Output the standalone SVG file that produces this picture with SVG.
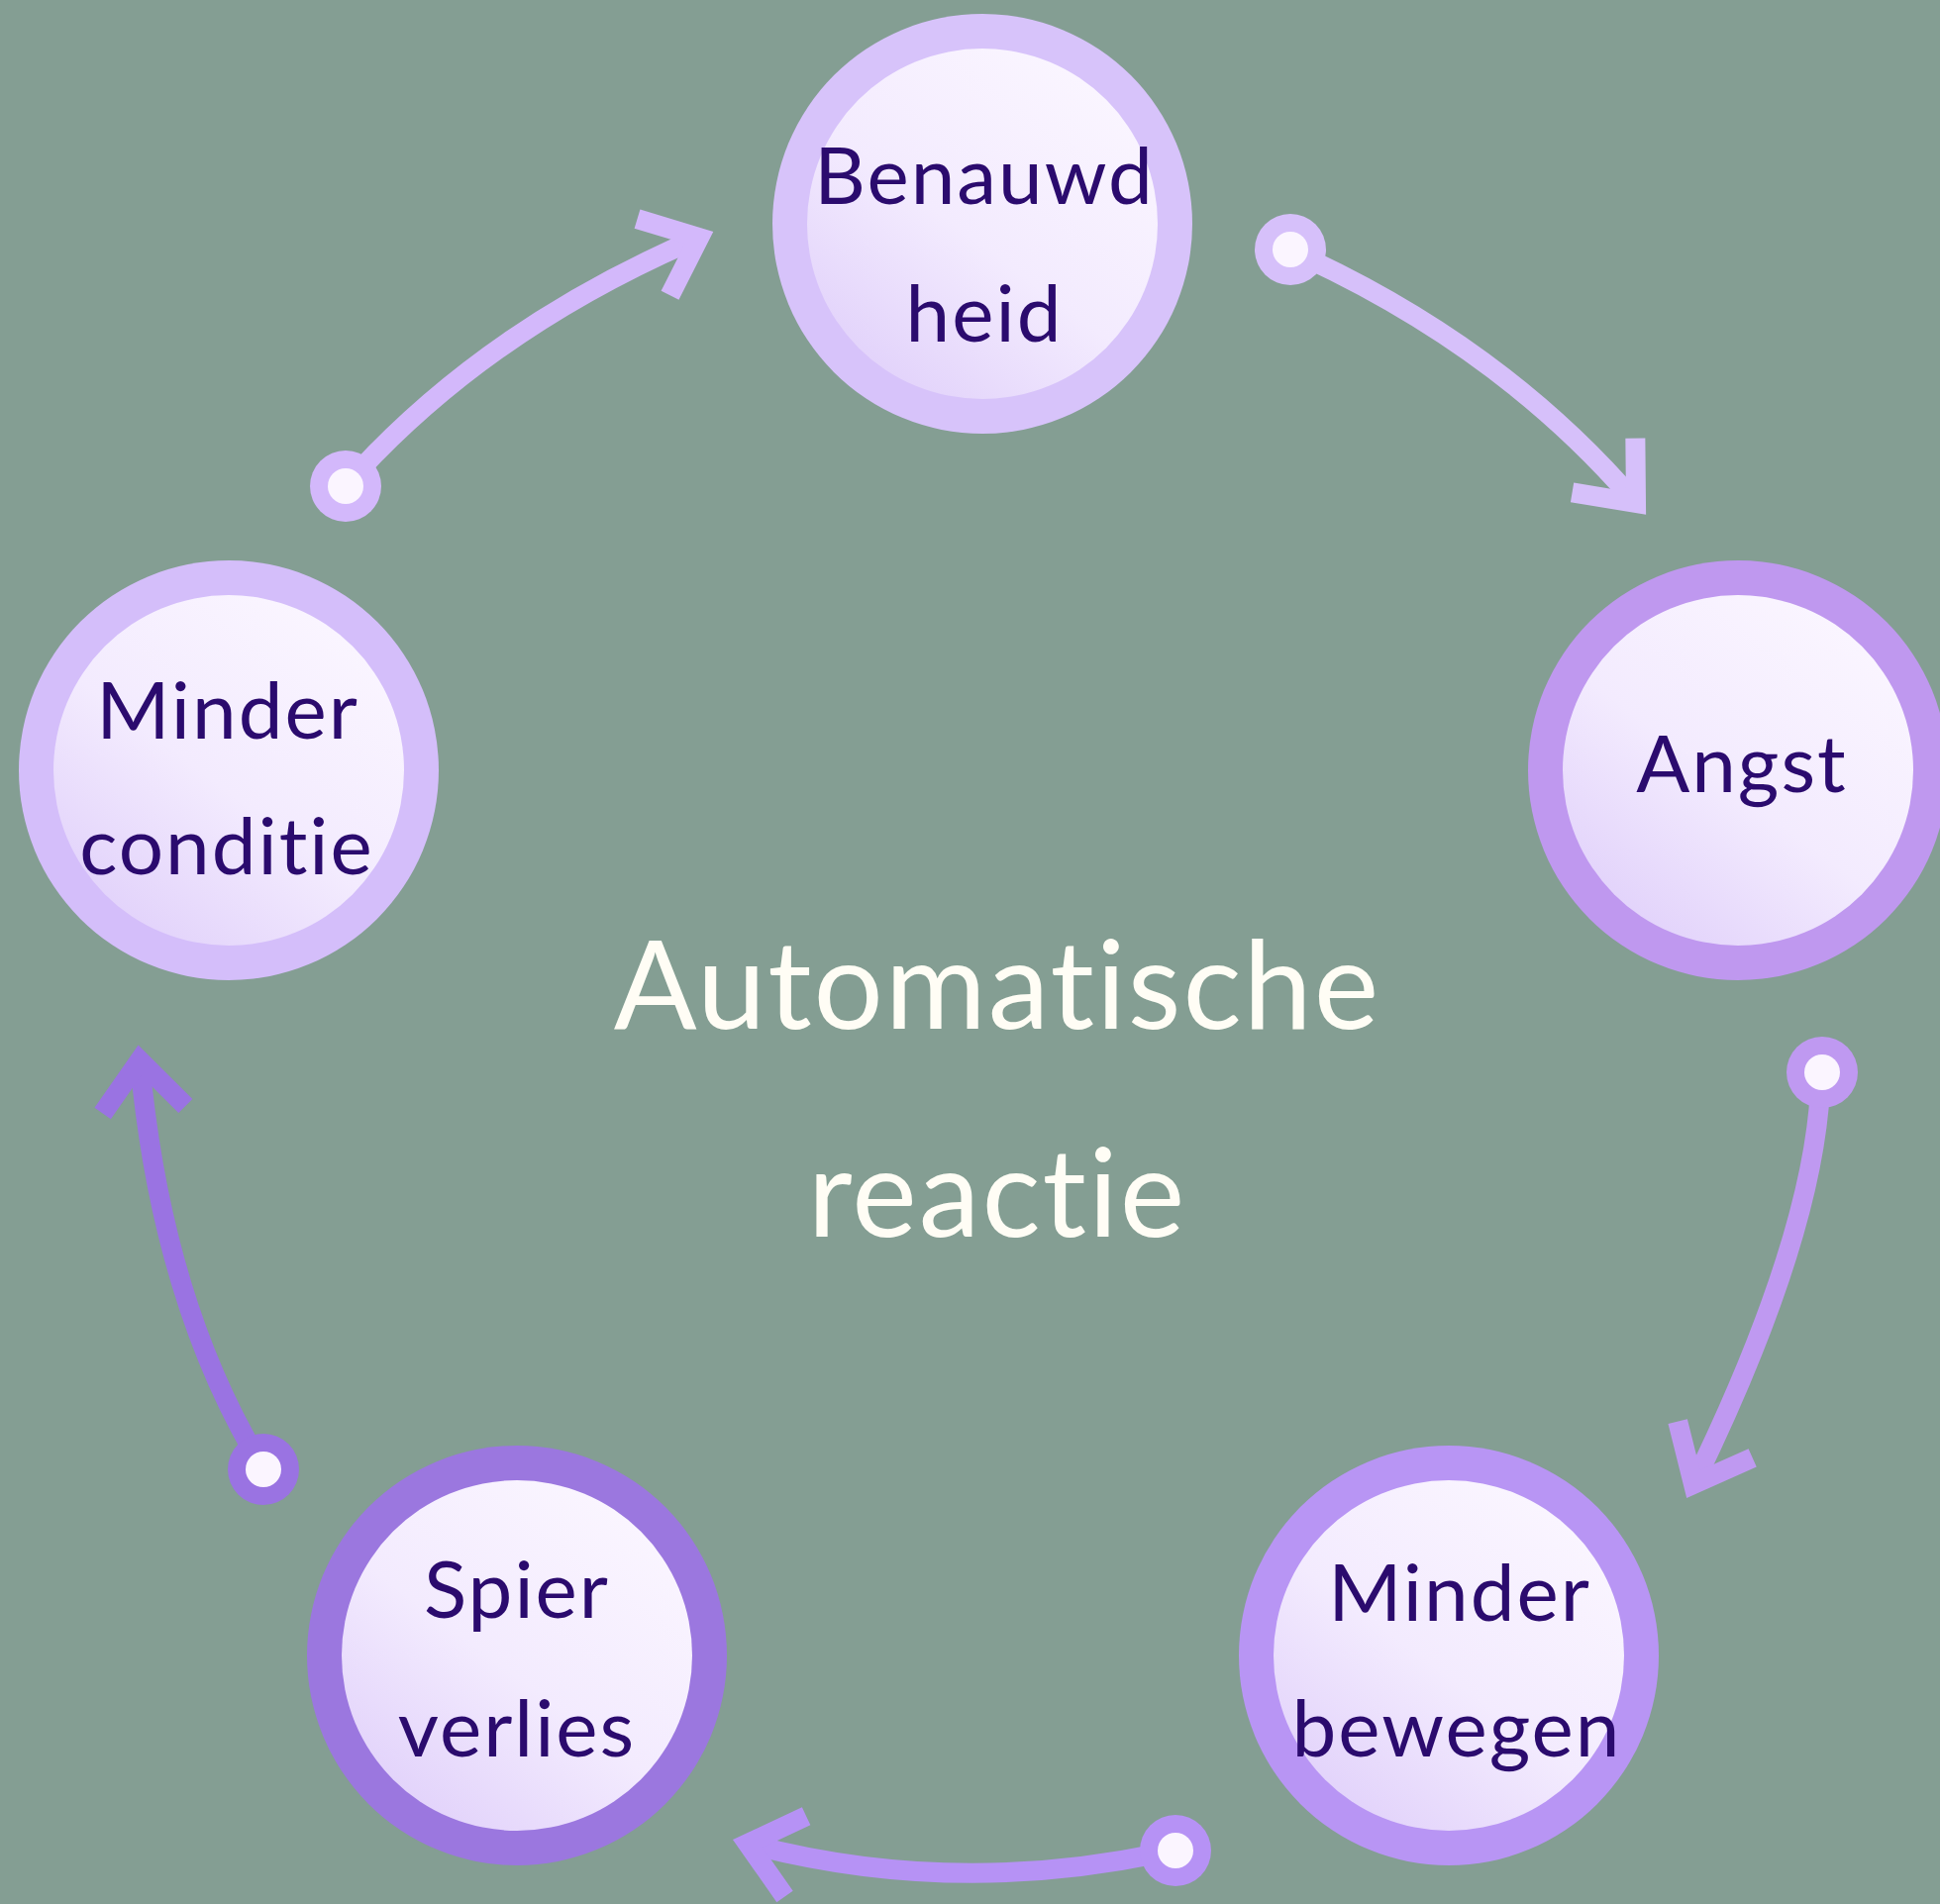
<svg xmlns="http://www.w3.org/2000/svg" width="1959" height="1923" viewBox="0 0 1959 1923">
  <style>
    .lbl { font-family: Lato, "Liberation Sans", sans-serif; font-size: 80px; fill: #2B0B6E; text-anchor: middle; letter-spacing: 2px; }
    .center { font-family: Lato, "Liberation Sans", sans-serif; font-size: 124px; fill: #FFFDF5; text-anchor: middle; letter-spacing: 2px; }
    .inner { fill: url(#innerGrad); }
    .conn { fill: none; stroke-width: 20; stroke-linecap: butt; }
    .dotc { fill: #FBF5FF; }
  </style>
  <defs>
    <linearGradient id="innerGrad" x1="0.8" y1="0.1" x2="0.2" y2="0.9">
      <stop offset="0" stop-color="#FAF5FF"/>
      <stop offset="0.55" stop-color="#F3EBFE"/>
      <stop offset="1" stop-color="#E3D4FB"/>
    </linearGradient>
    <marker id="ah1" markerUnits="userSpaceOnUse" viewBox="-70 -60 90 120" markerWidth="90" markerHeight="120" refX="0" refY="0" orient="auto" overflow="visible">
      <path d="M-50,-42 L0,0 L-50,42" fill="none" stroke="#D6C0FA" stroke-width="20" stroke-linejoin="miter"/>
    </marker>
    <marker id="ah2" markerUnits="userSpaceOnUse" viewBox="-70 -60 90 120" markerWidth="90" markerHeight="120" refX="0" refY="0" orient="auto" overflow="visible">
      <path d="M-50,-42 L0,0 L-50,42" fill="none" stroke="#BF99F1" stroke-width="20" stroke-linejoin="miter"/>
    </marker>
    <marker id="ah3" markerUnits="userSpaceOnUse" viewBox="-70 -60 90 120" markerWidth="90" markerHeight="120" refX="0" refY="0" orient="auto" overflow="visible">
      <path d="M-50,-42 L0,0 L-50,42" fill="none" stroke="#B692F5" stroke-width="20" stroke-linejoin="miter"/>
    </marker>
    <marker id="ah4" markerUnits="userSpaceOnUse" viewBox="-70 -60 90 120" markerWidth="90" markerHeight="120" refX="0" refY="0" orient="auto" overflow="visible">
      <path d="M-50,-42 L0,0 L-50,42" fill="none" stroke="#9A73E2" stroke-width="20" stroke-linejoin="miter"/>
    </marker>
    <marker id="ah5" markerUnits="userSpaceOnUse" viewBox="-70 -60 90 120" markerWidth="90" markerHeight="120" refX="0" refY="0" orient="auto" overflow="visible">
      <path d="M-50,-42 L0,0 L-50,42" fill="none" stroke="#D3B8FB" stroke-width="20" stroke-linejoin="miter"/>
    </marker>
  </defs>

  <rect x="0" y="0" width="1959" height="1923" fill="#849E93"/>

  <g id="connectors">
    <g id="c1">
      <path class="conn" d="M1318,260 Q1520,354 1652,508" stroke="#D6C0FA" marker-end="url(#ah1)"/>
      <circle cx="1303" cy="252" r="36" fill="#D6C0FA"/>
      <circle class="dotc" cx="1303" cy="252" r="18"/>
    </g>
    <g id="c2">
      <path class="conn" d="M1838,1100 Q1830,1253 1710,1499" stroke="#BF99F1" marker-end="url(#ah2)"/>
      <circle cx="1840" cy="1083" r="36" fill="#BF99F1"/>
      <circle class="dotc" cx="1840" cy="1083" r="18"/>
    </g>
    <g id="c3">
      <path class="conn" d="M1170,1872 Q958,1916 755,1862" stroke="#B692F5" marker-end="url(#ah3)"/>
      <circle cx="1187" cy="1869" r="36" fill="#B692F5"/>
      <circle class="dotc" cx="1187" cy="1869" r="18"/>
    </g>
    <g id="c4">
      <path class="conn" d="M255,1465 Q162,1303 141,1071" stroke="#9A73E2" marker-end="url(#ah4)"/>
      <circle cx="266" cy="1484" r="36" fill="#9A73E2"/>
      <circle class="dotc" cx="266" cy="1484" r="18"/>
    </g>
    <g id="c5">
      <path class="conn" d="M362,476 Q498,329 706,240" stroke="#D3B8FB" marker-end="url(#ah5)"/>
      <circle cx="349" cy="491" r="36" fill="#D3B8FB"/>
      <circle class="dotc" cx="349" cy="491" r="18"/>
    </g>
  </g>

  <g id="node-benauwdheid">
    <circle cx="992" cy="226" r="212" fill="#D7C3FA"/>
    <circle class="inner" cx="992" cy="226" r="177"/>
    <text class="lbl" x="994" y="206">Benauwd</text>
    <text class="lbl" x="994" y="345">heid</text>
  </g>

  <g id="node-angst">
    <circle cx="1755" cy="778" r="212" fill="#BF98EF"/>
    <circle class="inner" cx="1755" cy="778" r="177"/>
    <text class="lbl" x="1759" y="800">Angst</text>
  </g>

  <g id="node-minder-bewegen">
    <circle cx="1463" cy="1672" r="212" fill="#B895F4"/>
    <circle class="inner" cx="1463" cy="1672" r="177"/>
    <text class="lbl" x="1474" y="1637">Minder</text>
    <text class="lbl" x="1471" y="1774">bewegen</text>
  </g>

  <g id="node-spier-verlies">
    <circle cx="522" cy="1672" r="212" fill="#9B77DF"/>
    <circle class="inner" cx="522" cy="1672" r="177"/>
    <text class="lbl" x="522" y="1634">Spier</text>
    <text class="lbl" x="522" y="1774">verlies</text>
  </g>

  <g id="node-minder-conditie">
    <circle cx="231" cy="778" r="212" fill="#D4BEFA"/>
    <circle class="inner" cx="231" cy="778" r="177"/>
    <text class="lbl" x="230" y="746">Minder</text>
    <text class="lbl" x="229" y="883">conditie</text>
  </g>

  <g id="center-label">
    <text class="center" x="1007" y="1039">Automatische</text>
    <text class="center" x="1007" y="1249">reactie</text>
  </g>
</svg>
